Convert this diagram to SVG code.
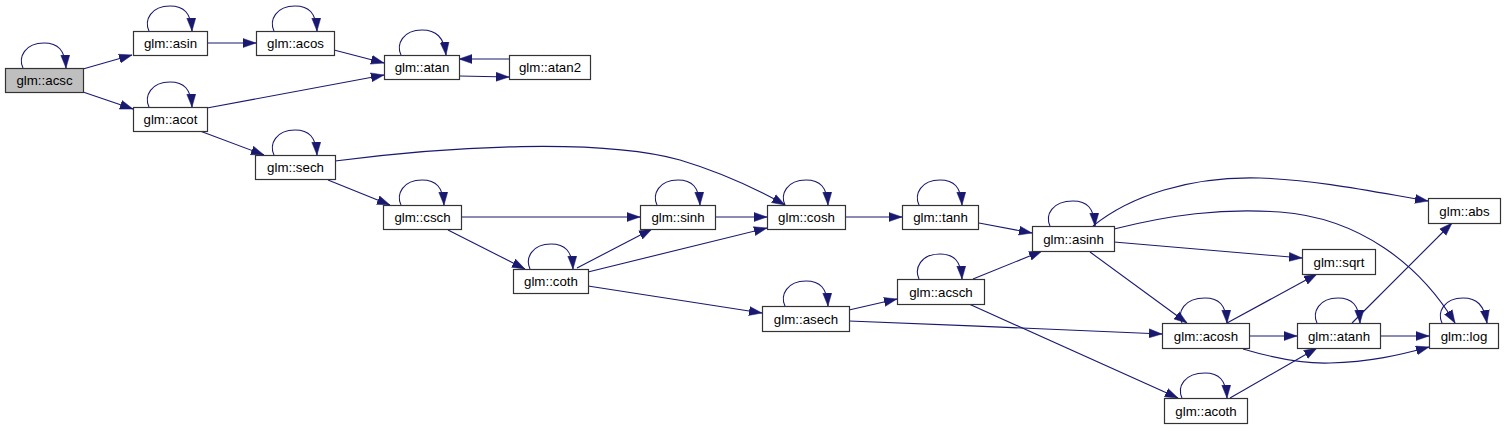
<svg xmlns="http://www.w3.org/2000/svg" width="1505" height="429" viewBox="0 0 1505 429">
<style>
.n rect{fill:#fff;stroke:#333;stroke-width:1.2}
.n.root rect{fill:#bfbfbf}
.n text{font-family:"Liberation Sans",Arial,sans-serif;font-size:13.3px;fill:#000;text-anchor:middle}
.e path{fill:none;stroke:#191970;stroke-width:1.1;marker-end:url(#ah)}
</style>
<defs>
<marker id="ah" markerUnits="userSpaceOnUse" viewBox="0 0 13 10" refX="13" refY="5" markerWidth="13" markerHeight="10" orient="auto">
<path d="M0,0.5 L13,5 L0,9.5 z" fill="#191970" stroke="#191970" stroke-width="0.5"/>
</marker>
</defs>
<rect width="1505" height="429" fill="#fff"/>
<g id="edges" class="e">
<!-- self loops -->
<path d="M23,68 C18,57 25,43 44,43 C58,43 65,50 66,68"/>
<path d="M149,31 C144,20 151,6 170,6 C184,6 191,13 192,31"/>
<path d="M274,31 C269,20 276,6 295,6 C309,6 316,13 317,31"/>
<path d="M149,107 C144,96 151,82 170,82 C184,82 191,89 192,107"/>
<path d="M401,55 C396,44 403,30 422,30 C436,30 444,37 446,55"/>
<path d="M274,155 C269,144 276,130 295,130 C309,130 316,137 317,155"/>
<path d="M401,205 C396,194 403,180 422,180 C436,180 443,187 444,205"/>
<path d="M530,269 C525,258 532,244 551,244 C565,244 572,251 573,269"/>
<path d="M657,205 C652,194 659,180 678,180 C692,180 699,187 700,205"/>
<path d="M785,205 C780,194 787,180 806,180 C820,180 827,187 828,205"/>
<path d="M919,205 C914,194 921,180 940,180 C954,180 961,187 962,205"/>
<path d="M1050,226 C1045,215 1052,201 1073,201 C1087,201 1094,208 1095,226"/>
<path d="M919,279 C914,268 921,254 940,254 C954,254 961,261 962,279"/>
<path d="M785,306 C780,295 787,281 806,281 C820,281 827,288 828,306"/>
<path d="M1182,323 C1177,312 1184,298 1205,298 C1219,298 1226,305 1227,323"/>
<path d="M1182,398 C1177,387 1184,373 1205,373 C1219,373 1226,380 1227,398"/>
<path d="M1317,323 C1312,312 1319,298 1338,298 C1352,298 1359,305 1360,323"/>
<path d="M1442,323 C1437,312 1444,298 1463,298 C1477,298 1484,305 1487,323"/>
<!-- edges -->
<path d="M83,69 L132,55"/>
<path d="M83,92 L133,109"/>
<path d="M207,43 L256,43"/>
<path d="M334,50 L384,63"/>
<path d="M207,108 L384,75"/>
<path d="M200,131 L264,155"/>
<path d="M509,59 L459,59"/>
<path d="M459,76 L509,77"/>
<path d="M335,161 C450,146 600,138 680,160 C720,172 755,188 785,205"/>
<path d="M328,180 L390,205"/>
<path d="M461,217 L640,217"/>
<path d="M448,230 L525,269"/>
<path d="M577,268 L652,229"/>
<path d="M588,272 L767,228"/>
<path d="M588,286 L762,313"/>
<path d="M715,217 L767,217"/>
<path d="M845,217 L902,217"/>
<path d="M979,223 L1032,233"/>
<path d="M849,310 L897,299"/>
<path d="M849,321 C950,325 1080,330 1162,334"/>
<path d="M973,279 L1042,251"/>
<path d="M969,304 L1178,398"/>
<path d="M1093,226 C1130,196 1190,176 1260,178 C1320,180 1380,193 1428,201"/>
<path d="M1114,229 C1170,215 1220,208 1280,212 C1360,218 1420,265 1455,323"/>
<path d="M1114,242 L1302,258"/>
<path d="M1090,252 L1187,323"/>
<path d="M1227,323 L1317,274"/>
<path d="M1249,336 L1297,336"/>
<path d="M1243,349 C1270,357 1300,364 1330,363 C1370,362 1400,355 1429,347"/>
<path d="M1352,323 L1452,223"/>
<path d="M1380,336 L1429,336"/>
<path d="M1230,398 L1317,348"/>
</g>
<g id="n_acsc" class="n root"><rect x="5.5" y="68.5" width="78" height="24"/><text x="44.5" y="85">glm::acsc</text></g>
<g id="n_asin" class="n"><rect x="133.5" y="31.5" width="74" height="24"/><text x="170.5" y="48">glm::asin</text></g>
<g id="n_acos" class="n"><rect x="256.5" y="31.5" width="78" height="24"/><text x="295.5" y="48">glm::acos</text></g>
<g id="n_acot" class="n"><rect x="133.5" y="107.5" width="74" height="24"/><text x="170.5" y="124">glm::acot</text></g>
<g id="n_atan" class="n"><rect x="384.5" y="55.5" width="75" height="24"/><text x="422" y="72">glm::atan</text></g>
<g id="n_atan2" class="n"><rect x="509.5" y="55.5" width="81" height="24"/><text x="550" y="72">glm::atan2</text></g>
<g id="n_sech" class="n"><rect x="255.5" y="155.5" width="80" height="24"/><text x="295.5" y="172">glm::sech</text></g>
<g id="n_csch" class="n"><rect x="383.5" y="205.5" width="78" height="24"/><text x="422.5" y="222">glm::csch</text></g>
<g id="n_coth" class="n"><rect x="513.5" y="269.5" width="75" height="24"/><text x="551" y="286">glm::coth</text></g>
<g id="n_sinh" class="n"><rect x="640.5" y="205.5" width="75" height="24"/><text x="678" y="222">glm::sinh</text></g>
<g id="n_cosh" class="n"><rect x="767.5" y="205.5" width="78" height="24"/><text x="806.5" y="222">glm::cosh</text></g>
<g id="n_tanh" class="n"><rect x="902.5" y="205.5" width="76" height="24"/><text x="940.5" y="222">glm::tanh</text></g>
<g id="n_acsch" class="n"><rect x="897.5" y="279.5" width="87" height="25"/><text x="941" y="296.5">glm::acsch</text></g>
<g id="n_asech" class="n"><rect x="762.5" y="306.5" width="87" height="25"/><text x="806" y="323.5">glm::asech</text></g>
<g id="n_asinh" class="n"><rect x="1032.5" y="226.5" width="82" height="25"/><text x="1073.5" y="243.5">glm::asinh</text></g>
<g id="n_acosh" class="n"><rect x="1162.5" y="323.5" width="87" height="25"/><text x="1206" y="340.5">glm::acosh</text></g>
<g id="n_acoth" class="n"><rect x="1164.5" y="398.5" width="83" height="25"/><text x="1206" y="415.5">glm::acoth</text></g>
<g id="n_abs" class="n"><rect x="1428.5" y="198.5" width="72" height="25"/><text x="1464.5" y="215.5">glm::abs</text></g>
<g id="n_sqrt" class="n"><rect x="1302.5" y="249.5" width="73" height="25"/><text x="1339" y="266.5">glm::sqrt</text></g>
<g id="n_atanh" class="n"><rect x="1297.5" y="323.5" width="83" height="25"/><text x="1339" y="340.5">glm::atanh</text></g>
<g id="n_log" class="n"><rect x="1429.5" y="323.5" width="69" height="25"/><text x="1464" y="340.5">glm::log</text></g>
</svg>
